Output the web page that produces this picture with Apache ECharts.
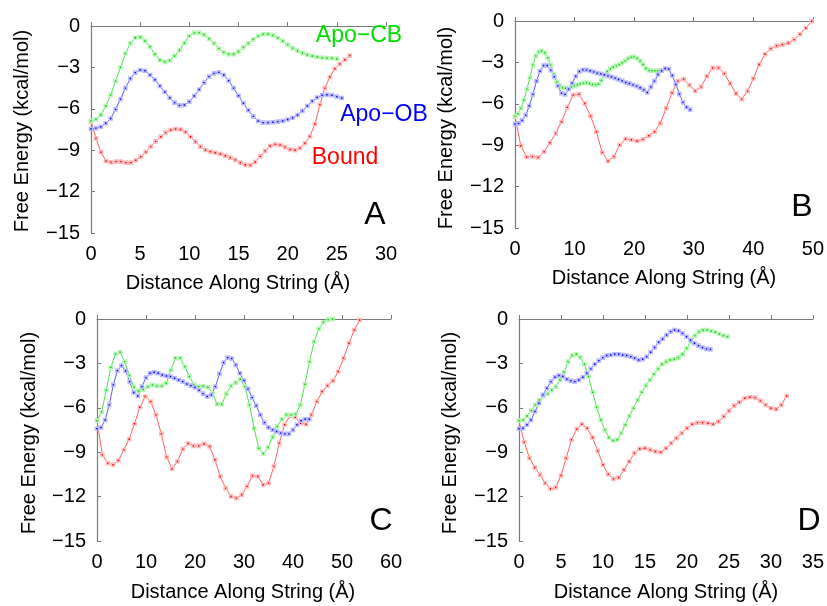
<!DOCTYPE html>
<html>
<head>
<meta charset="utf-8">
<script src="https://cdn.jsdelivr.net/npm/echarts@6/dist/echarts.min.js"></script>
<style>
  html, body { margin: 0; padding: 0; background: #fff; }
  #chart { width: 827px; height: 606px; }
</style>
</head>
<body>
<div id="chart"></div>
<script>
// free energy along the string (kcal/mol), images equally spaced along the string
// spacing between images (Å)
const aGreenStep = 0.5, aBlueStep = 0.5, aRedStep = 0.506;
const aGreen = [-6.88, -6.76, -6.45, -5.8, -5.0, -4.0, -3.0, -2.0, -1.26, -0.85, -0.82, -1.09, -1.5, -2.05, -2.46, -2.6, -2.5, -2.17, -1.76, -1.23,
  -0.72, -0.5, -0.48, -0.63, -0.92, -1.26, -1.64, -1.91, -2.05, -2.05, -1.85, -1.55, -1.26, -0.97, -0.72, -0.6, -0.58, -0.68, -0.87, -1.09,
  -1.35, -1.6, -1.79, -1.96, -2.08, -2.17, -2.25, -2.3, -2.32, -2.34, -2.37];
const aBlue = [-7.46, -7.4, -7.3, -7.05, -6.7, -6.04, -5.3, -4.5, -3.8, -3.38, -3.19, -3.24, -3.55, -3.9, -4.35, -4.78, -5.2, -5.55, -5.75, -5.72,
  -5.48, -5.07, -4.6, -4.1, -3.67, -3.43, -3.36, -3.55, -3.96, -4.5, -5.05, -5.6, -6.1, -6.55, -6.88, -7.0, -7.0, -6.98, -6.93, -6.88,
  -6.78, -6.65, -6.45, -6.15, -5.8, -5.45, -5.18, -5.02, -4.98, -5.02, -5.12, -5.22];
const aRed = [-6.93, -8.14, -9.15, -9.78, -9.88, -9.83, -9.83, -9.9, -9.9, -9.73, -9.47, -9.13, -8.74, -8.36, -8.02, -7.73, -7.54, -7.46, -7.5, -7.68,
  -8.02, -8.38, -8.74, -8.99, -9.1, -9.18, -9.28, -9.4, -9.54, -9.7, -9.9, -10.05, -10.08, -9.85, -9.45, -9.05, -8.7, -8.58, -8.62, -8.78,
  -8.95, -9.0, -8.85, -8.5, -8.0, -7.1, -5.7, -4.5, -3.7, -3.1, -2.75, -2.45, -2.15];

const bGreenStep = 0.5, bBlueStep = 0.6, bRedStep = 0.976;
const bGreen = [-6.89, -6.72, -6.33, -5.73, -4.94, -4.12, -3.2, -2.53, -2.24, -2.17, -2.31, -2.67, -3.2, -3.85, -4.41, -4.72, -4.84, -4.87, -4.84, -4.77,
  -4.7, -4.62, -4.55, -4.5, -4.48, -4.53, -4.6, -4.63, -4.58, -4.31, -3.97, -3.66, -3.47, -3.35, -3.25, -3.15, -3.03, -2.89, -2.72, -2.63,
  -2.6, -2.7, -2.89, -3.15, -3.44, -3.59, -3.6, -3.6, -3.6, -3.58];
const bBlue = [-7.47, -7.42, -7.2, -6.82, -6.14, -5.32, -4.36, -3.64, -3.23, -3.23, -3.56, -4.05, -4.7, -5.23, -5.32, -4.94, -4.5, -4.0, -3.66, -3.54,
  -3.54, -3.61, -3.69, -3.78, -3.83, -3.9, -3.98, -4.05, -4.14, -4.24, -4.34, -4.46, -4.53, -4.63, -4.72, -4.84, -4.99, -5.18, -4.77, -4.36,
  -3.88, -3.6, -3.44, -3.48, -3.95, -4.6, -5.3, -5.9, -6.25, -6.42];
const bRed = [-6.94, -9.04, -9.85, -9.83, -9.88, -9.47, -8.82, -8.14, -7.3, -6.26, -5.37, -5.32, -5.98, -6.89, -8.02, -9.52, -10.14, -9.83, -8.99, -8.55,
  -8.6, -8.7, -8.58, -8.31, -8.02, -7.4, -6.33, -5.2, -4.36, -4.21, -4.65, -5.06, -4.77, -4.0, -3.4, -3.4, -3.81, -4.53, -5.25, -5.66,
  -5.08, -4.17, -3.15, -2.41, -2.0, -1.8, -1.71, -1.59, -1.35, -0.96, -0.51, -0.02];

const cGreenStep = 0.943, cBlueStep = 0.833, cRedStep = 1.094;
const cGreen = [-6.88, -6.28, -4.81, -3.26, -2.36, -2.25, -2.88, -3.82, -4.61, -4.86, -4.77, -4.57, -4.45, -4.52, -4.52, -4.34, -3.44, -2.65, -2.65, -3.22,
  -3.89, -4.45, -4.57, -4.54, -4.61, -5.02, -5.74, -5.76, -5.06, -4.52, -4.3, -4.07, -4.57, -5.8, -7.38, -8.73, -9.09, -8.68, -7.98, -7.26,
  -6.77, -6.48, -6.48, -6.43, -5.8, -4.41, -2.88, -1.53, -0.67, -0.22, -0.04, 0];
const cBlue = [-7.42, -7.33, -6.82, -5.8, -4.45, -3.49, -3.15, -3.51, -4.23, -4.97, -5.2, -4.57, -3.96, -3.67, -3.6, -3.67, -3.78, -3.85, -3.89, -4.0,
  -4.12, -4.23, -4.39, -4.5, -4.63, -4.81, -5.04, -5.24, -5.13, -4.57, -3.71, -2.95, -2.61, -2.68, -3.1, -3.67, -4.16, -4.72, -5.31, -5.85,
  -6.48, -7.0, -7.33, -7.49, -7.6, -7.71, -7.76, -7.76, -7.49, -7.15, -6.88, -6.77, -6.77];
const cRed = [-6.88, -9.18, -9.74, -9.85, -9.56, -8.84, -8.12, -7.08, -5.96, -5.24, -5.58, -6.48, -7.76, -9.33, -10.12, -9.63, -8.79, -8.41, -8.57, -8.57,
  -8.43, -8.61, -9.51, -10.64, -11.43, -11.99, -12.1, -11.88, -11.31, -10.6, -10.64, -11.2, -11.09, -9.96, -8.39, -7.15, -6.55, -6.64, -7.04, -7.11,
  -6.48, -5.58, -4.9, -4.5, -4.18, -3.55, -2.65, -1.64, -0.74, -0.07];

const dGreenStep = 0.487, dBlueStep = 0.475, dRedStep = 0.625;
const dGreen = [-6.88, -6.82, -6.55, -6.19, -5.8, -5.47, -5.2, -5.04, -4.81, -4.57, -4.12, -3.6, -2.88, -2.47, -2.36, -2.59, -3.06, -3.89, -4.95, -5.96,
  -6.82, -7.49, -8.01, -8.21, -8.16, -7.71, -7.15, -6.55, -6.03, -5.47, -4.95, -4.5, -4.12, -3.73, -3.37, -3.06, -2.88, -2.77, -2.72, -2.61,
  -2.38, -1.98, -1.57, -1.12, -0.85, -0.74, -0.74, -0.81, -0.9, -1.01, -1.12, -1.19];
const dBlue = [-7.42, -7.38, -7.15, -6.82, -6.25, -5.69, -5.13, -4.68, -4.23, -3.94, -3.82, -3.89, -4.07, -4.18, -4.23, -4.12, -3.94, -3.67, -3.37, -3.06,
  -2.81, -2.61, -2.47, -2.43, -2.38, -2.38, -2.43, -2.47, -2.54, -2.65, -2.77, -2.72, -2.54, -2.25, -1.93, -1.57, -1.35, -1.08, -0.85, -0.74,
  -0.79, -0.97, -1.19, -1.42, -1.64, -1.8, -1.93, -2.02, -2.05];
const dRed = [-6.88, -8.32, -9.4, -10.03, -10.53, -11.09, -11.47, -11.38, -10.57, -9.4, -8.16, -7.44, -7.11, -7.38, -8.01, -8.91, -9.85, -10.48, -10.8, -10.71,
  -10.19, -9.63, -9.06, -8.77, -8.73, -8.84, -8.95, -9.0, -8.73, -8.39, -8.05, -7.71, -7.38, -7.11, -7.0, -7.0, -7.04, -7.11, -6.93, -6.59,
  -6.21, -5.85, -5.62, -5.35, -5.29, -5.31, -5.53, -5.8, -6.03, -6.1, -5.8, -5.2];

const panelNames = ['A', 'B', 'C', 'D'];
const xMax = [30, 50, 60, 35];
const xInterval = [5, 10, 10, 5];
const seriesNames = ['Apo−CB', 'Apo−OB', 'Bound'];

const FONT = '"Liberation Sans", Arial, sans-serif';
const grids = [
  { left: 91, top: 26, width: 295, height: 207 },
  { left: 515, top: 21, width: 298, height: 207 },
  { left: 97, top: 319, width: 294, height: 222 },
  { left: 519, top: 319, width: 294, height: 222 }
];
const colors = {
  green: { line: '#4ede4e', dot: '#00c800', halo: '#b4f5b4' },
  blue: { line: '#5a5aff', dot: '#0000e0', halo: '#b9b9ff' },
  red: { line: '#ff6060', dot: '#e80000', halo: '#ffb9b9' }
};

function toPoints(vals, step) {
  return vals.map((v, i) => [i * step, v]);
}

function lineSeries(name, vals, step, c, idx) {
  return {
    name: name,
    type: 'line',
    xAxisIndex: idx,
    yAxisIndex: idx,
    data: toPoints(vals, step),
    symbol: 'rect',
    symbolSize: 3,
    lineStyle: { color: c.line, width: 1 },
    itemStyle: { color: c.dot, borderColor: c.halo, borderWidth: 1.6 },
    emphasis: { disabled: true },
    animation: false
  };
}

const axisLine = { show: true, lineStyle: { color: '#7a7a7a', width: 1.2 } };
const axisTick = { show: true, inside: true, length: 4, lineStyle: { color: '#7a7a7a' } };
const minus = v => (v < 0 ? '\u2212' + Math.abs(v) : String(v));

const option = {
  backgroundColor: '#fff',
  grid: grids,
  xAxis: grids.map((g, i) => ({
    type: 'value', gridIndex: i, min: 0, max: xMax[i], interval: xInterval[i],
    axisLine: axisLine, axisTick: axisTick, splitLine: { show: false },
    axisLabel: { color: '#000', fontSize: 20, fontFamily: FONT, margin: 11 }
  })),
  yAxis: grids.map((g, i) => ({
    type: 'value', gridIndex: i, min: -15, max: 0, interval: 3,
    axisLine: axisLine, axisTick: axisTick, splitLine: { show: false },
    axisLabel: { color: '#000', fontSize: 20, fontFamily: FONT, margin: 11, formatter: minus }
  })),
  series: [
    lineSeries(seriesNames[2], aRed, aRedStep, colors.red, 0),
    lineSeries(seriesNames[1], aBlue, aBlueStep, colors.blue, 0),
    lineSeries(seriesNames[0], aGreen, aGreenStep, colors.green, 0),
    lineSeries(seriesNames[2], bRed, bRedStep, colors.red, 1),
    lineSeries(seriesNames[0], bGreen, bGreenStep, colors.green, 1),
    lineSeries(seriesNames[1], bBlue, bBlueStep, colors.blue, 1),
    lineSeries(seriesNames[2], cRed, cRedStep, colors.red, 2),
    lineSeries(seriesNames[0], cGreen, cGreenStep, colors.green, 2),
    lineSeries(seriesNames[1], cBlue, cBlueStep, colors.blue, 2),
    lineSeries(seriesNames[2], dRed, dRedStep, colors.red, 3),
    lineSeries(seriesNames[0], dGreen, dGreenStep, colors.green, 3),
    lineSeries(seriesNames[1], dBlue, dBlueStep, colors.blue, 3)
  ],
  graphic: []
};

// axis titles and panel letters
const xTitlePos = [[238, 283], [664, 278], [243, 592], [666, 592]];
const yTitlePos = [[22, 131], [446, 128], [29, 433], [450, 433]];
const letterPos = [[375, 215], [802, 207], [381, 521], [809, 521]];
function txt(text, x, y, size, color, rot) {
  return {
    type: 'text', x: x, y: y, rotation: rot || 0, z: 100,
    style: { text: text, fill: color, font: size + 'px ' + FONT, textAlign: 'center', textVerticalAlign: 'middle' }
  };
}
for (let i = 0; i < 4; i++) {
  option.graphic.push(txt('Distance Along String (Å)', xTitlePos[i][0], xTitlePos[i][1], 20, '#000'));
  option.graphic.push(txt('Free Energy (kcal/mol)', yTitlePos[i][0], yTitlePos[i][1], 20, '#000', Math.PI / 2));
  option.graphic.push(txt(panelNames[i], letterPos[i][0], letterPos[i][1], 32, '#000'));
}
// curve labels in panel A
option.graphic.push(txt(seriesNames[0], 359, 36, 23, '#00dd00'));
option.graphic.push(txt(seriesNames[1], 384, 115, 23, '#0000ff'));
option.graphic.push(txt(seriesNames[2], 345, 158, 23, '#ff0000'));

const chart = echarts.init(document.getElementById('chart'), null, { renderer: 'canvas' });
chart.setOption(option);
</script>
</body>
</html>
